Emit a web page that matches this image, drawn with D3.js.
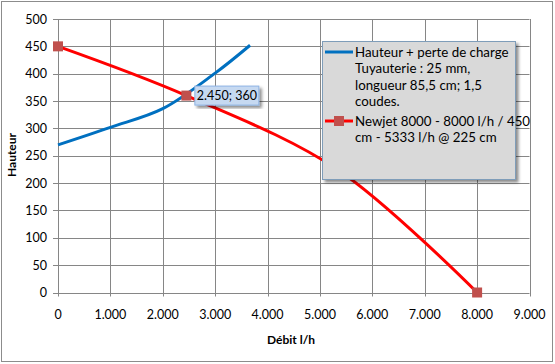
<!DOCTYPE html>
<html><head><meta charset="utf-8">
<script src="https://cdn.jsdelivr.net/npm/d3@7"></script>
<style>body{margin:0;background:#fff}svg{display:block}text{font-family:Lato,"Open Sans",sans-serif}</style>
</head><body>
<svg id="c" width="555" height="364"></svg>
<script>
const xTicks = [0,1000,2000,3000,4000,5000,6000,7000,8000,9000];
const yTicks = [0,50,100,150,200,250,300,350,400,450,500];
const blueX = [0,1000,2000,3000,3666];
const blueY = [270,302,336,401,452];
const redX = [0,2450,5333,8000];
const redY = [450,360,225,0];
const legendBlue = ["Hauteur + perte de charge","Tuyauterie : 25 mm,","longueur 85,5 cm; 1,5","coudes."];
const legendRed = ["Newjet 8000 - 8000 l/h  / 450","cm - 5333 l/h  @ 225 cm"];
const labelPoint = {x:2450,y:360,text:"2.450; 360"};

const svg = d3.select("#c");
const fmt = d => d===0 ? "0" : d3.format(",")(d).replace(/,/g,".");
const x = d3.scaleLinear().domain([0,9000]).range([58,529.5]);
const y = d3.scaleLinear().domain([0,500]).range([292.5,19]);

svg.append("rect").attr("x",1.5).attr("y",1.5).attr("width",551).attr("height",360).attr("fill","#fff").attr("stroke","#8c8c8c");

const defs = svg.append("defs");
const f = defs.append("filter").attr("id","sh").attr("x","-10%").attr("y","-10%").attr("width","130%").attr("height","130%");
f.append("feDropShadow").attr("dx",2.5).attr("dy",2.5).attr("stdDeviation",1.8).attr("flood-color","#000").attr("flood-opacity",0.45);

// grid
svg.append("g").selectAll("line").data(xTicks).join("line")
  .attr("x1",d=>Math.round(x(d))+0.5).attr("x2",d=>Math.round(x(d))+0.5).attr("y1",y(500)).attr("y2",y(0)+4)
  .attr("stroke","#868686");
svg.append("g").selectAll("line").data(yTicks).join("line")
  .attr("y1",d=>Math.round(y(d))+0.5).attr("y2",d=>Math.round(y(d))+0.5).attr("x1",x(0)-5).attr("x2",x(9000))
  .attr("stroke","#868686");

svg.append("g").selectAll("text").data(yTicks).join("text")
  .attr("x",47).attr("y",d=>y(d)+4.5).attr("text-anchor","end").attr("font-size",12.5).attr("fill","#000").text(fmt);
svg.append("g").selectAll("text").data(xTicks).join("text")
  .attr("x",d=>x(d)).attr("y",318.5).attr("text-anchor","middle").attr("font-size",12.5).attr("fill","#000").text(fmt);

svg.append("text").attr("transform","translate(16,155) rotate(-90)").attr("text-anchor","middle")
  .attr("font-size",12).attr("font-weight","bold").text("Hauteur");
svg.append("text").attr("x",291).attr("y",344).attr("text-anchor","middle")
  .attr("font-size",12).attr("font-weight","bold").text("Débit l/h");

const line = d3.line().x(d=>x(d[0])).y(d=>y(d[1])).curve(d3.curveCatmullRom.alpha(0.5));
const blue = blueX.map((v,i)=>[v,blueY[i]]);
const red = redX.map((v,i)=>[v,redY[i]]);
svg.append("path").attr("d",line(blue)).attr("fill","none").attr("stroke","#0070c0").attr("stroke-width",3);
svg.append("path").attr("d",line(red)).attr("fill","none").attr("stroke","#ff0000").attr("stroke-width",3);
svg.append("g").selectAll("rect").data(red).join("rect")
  .attr("x",d=>x(d[0])-5).attr("y",d=>y(d[1])-5).attr("width",10).attr("height",10).attr("fill","#c0504d");

// data label
const lx = x(labelPoint.x)+8, ly = y(labelPoint.y)-10;
svg.append("rect").attr("x",lx+0.5).attr("y",ly+0.5).attr("width",64).attr("height",19)
  .attr("fill","#c6d9f1").attr("stroke","#8eb4e3").attr("filter","url(#sh)");
svg.append("text").attr("x",lx+32.5).attr("y",ly+14.5).attr("text-anchor","middle").attr("font-size",12.5).text(labelPoint.text);

// legend
const lg = svg.append("g");
lg.append("rect").attr("x",322.5).attr("y",41.5).attr("width",193).attr("height",138)
  .attr("fill","#d9d9d9").attr("stroke","#7f9db9").attr("filter","url(#sh)");
const lh = 16.5;
legendBlue.forEach((t,i)=>lg.append("text").attr("x",355).attr("y",56.5+i*lh).attr("font-size",13.3).text(t));
legendRed.forEach((t,i)=>lg.append("text").attr("x",355).attr("y",125.5+i*lh).attr("font-size",13.3).text(t));
lg.append("line").attr("x1",325).attr("x2",353).attr("y1",52).attr("y2",52).attr("stroke","#0070c0").attr("stroke-width",3);
lg.append("line").attr("x1",325).attr("x2",353).attr("y1",121).attr("y2",121).attr("stroke","#ff0000").attr("stroke-width",3);
lg.append("rect").attr("x",334).attr("y",116).attr("width",10).attr("height",10).attr("fill","#c0504d");
</script>
</body></html>
